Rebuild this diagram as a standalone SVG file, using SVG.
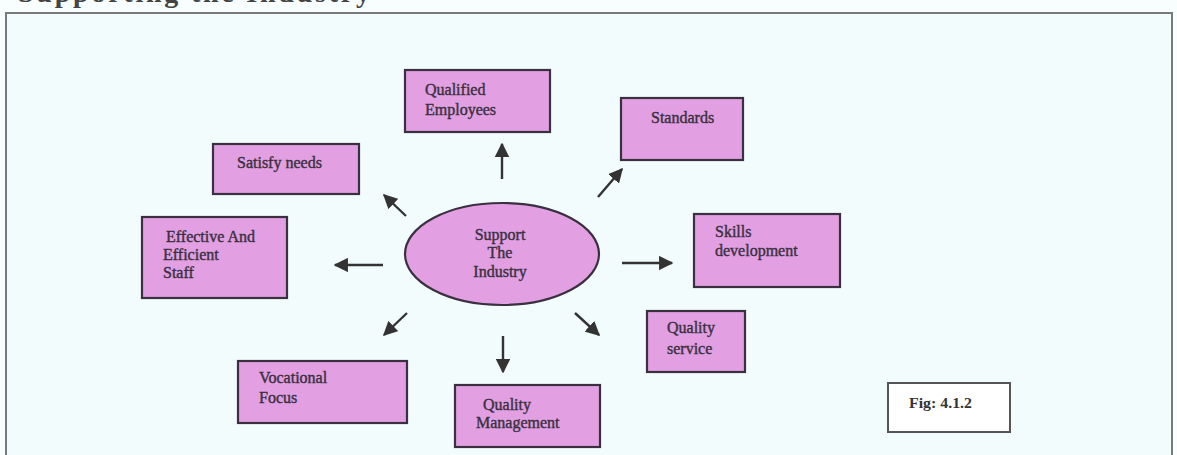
<svg xmlns="http://www.w3.org/2000/svg" width="1177" height="455" viewBox="0 0 1177 455">
<defs>
<style>
.box{fill:#e2a0e2;stroke:#3a3040;stroke-width:2.2}
.t{font-family:"Liberation Serif","Times New Roman",serif;font-size:16px;fill:#3a3040;stroke:#3a3040;stroke-width:0.4}
.c{stroke:#333;stroke-width:2.4;fill:none}
</style>
<marker id="ah" viewBox="0 0 10 10" refX="9" refY="5" markerWidth="6" markerHeight="6" orient="auto" markerUnits="strokeWidth">
<path d="M0,0 L10,5 L0,10 Z" fill="#333"/>
</marker>
</defs>
<rect x="0" y="0" width="1177" height="455" fill="#f8fefe"/>
<text x="18" y="2" font-family="Liberation Serif, serif" font-weight="bold" font-size="28" fill="#444" textLength="352" lengthAdjust="spacing">Supporting the Industry</text>
<rect id="frame" x="6" y="13" width="1166" height="450" fill="#f2fcfd" stroke="#7a7a7a" stroke-width="2"/>

<g id="connectors">
<line class="c" x1="502" y1="179" x2="502" y2="144" marker-end="url(#ah)"/>
<line class="c" x1="598" y1="197" x2="622" y2="169" marker-end="url(#ah)"/>
<line class="c" x1="406" y1="216" x2="384" y2="195" marker-end="url(#ah)"/>
<line class="c" x1="383" y1="265" x2="335" y2="265" marker-end="url(#ah)"/>
<line class="c" x1="622" y1="263" x2="672" y2="263" marker-end="url(#ah)"/>
<line class="c" x1="575" y1="313" x2="599" y2="335" marker-end="url(#ah)"/>
<line class="c" x1="503" y1="336" x2="503" y2="372" marker-end="url(#ah)"/>
<line class="c" x1="407" y1="313" x2="384" y2="335" marker-end="url(#ah)"/>
</g>

<g id="center">
<ellipse class="box" cx="502" cy="254" rx="97" ry="51"/>
<text class="t" x="500" y="240" text-anchor="middle">Support</text>
<text class="t" x="500" y="258" text-anchor="middle">The</text>
<text class="t" x="500" y="277" text-anchor="middle">Industry</text>
</g>

<g id="qualified-employees">
<rect class="box" x="405" y="70" width="145" height="62"/>
<text class="t" x="425" y="95">Qualified</text>
<text class="t" x="425" y="115">Employees</text>
</g>

<g id="standards">
<rect class="box" x="621" y="98" width="122" height="62"/>
<text class="t" x="651" y="123">Standards</text>
</g>

<g id="satisfy-needs">
<rect class="box" x="213" y="144" width="146" height="50"/>
<text class="t" x="237" y="168">Satisfy needs</text>
</g>

<g id="effective-staff">
<rect class="box" x="142" y="217" width="145" height="81"/>
<text class="t" x="166" y="242">Effective And</text>
<text class="t" x="163" y="260">Efficient</text>
<text class="t" x="163" y="278">Staff</text>
</g>

<g id="skills-development">
<rect class="box" x="694" y="214" width="146" height="73"/>
<text class="t" x="715" y="237">Skills</text>
<text class="t" x="715" y="256">development</text>
</g>

<g id="quality-service">
<rect class="box" x="647" y="311" width="98" height="61"/>
<text class="t" x="667" y="333">Quality</text>
<text class="t" x="667" y="354">service</text>
</g>

<g id="vocational-focus">
<rect class="box" x="238" y="361" width="169" height="62"/>
<text class="t" x="259" y="383">Vocational</text>
<text class="t" x="259" y="403">Focus</text>
</g>

<g id="quality-management">
<rect class="box" x="455" y="385" width="145" height="62"/>
<text class="t" x="483" y="410">Quality</text>
<text class="t" x="476" y="428">Management</text>
</g>

<g id="fig-label">
<rect x="888" y="383" width="122" height="49" fill="#ffffff" stroke="#555" stroke-width="2"/>
<text x="909" y="408" font-family="Liberation Serif, serif" font-weight="bold" font-size="14" fill="#333" textLength="63" lengthAdjust="spacingAndGlyphs">Fig: 4.1.2</text>
</g>
</svg>
